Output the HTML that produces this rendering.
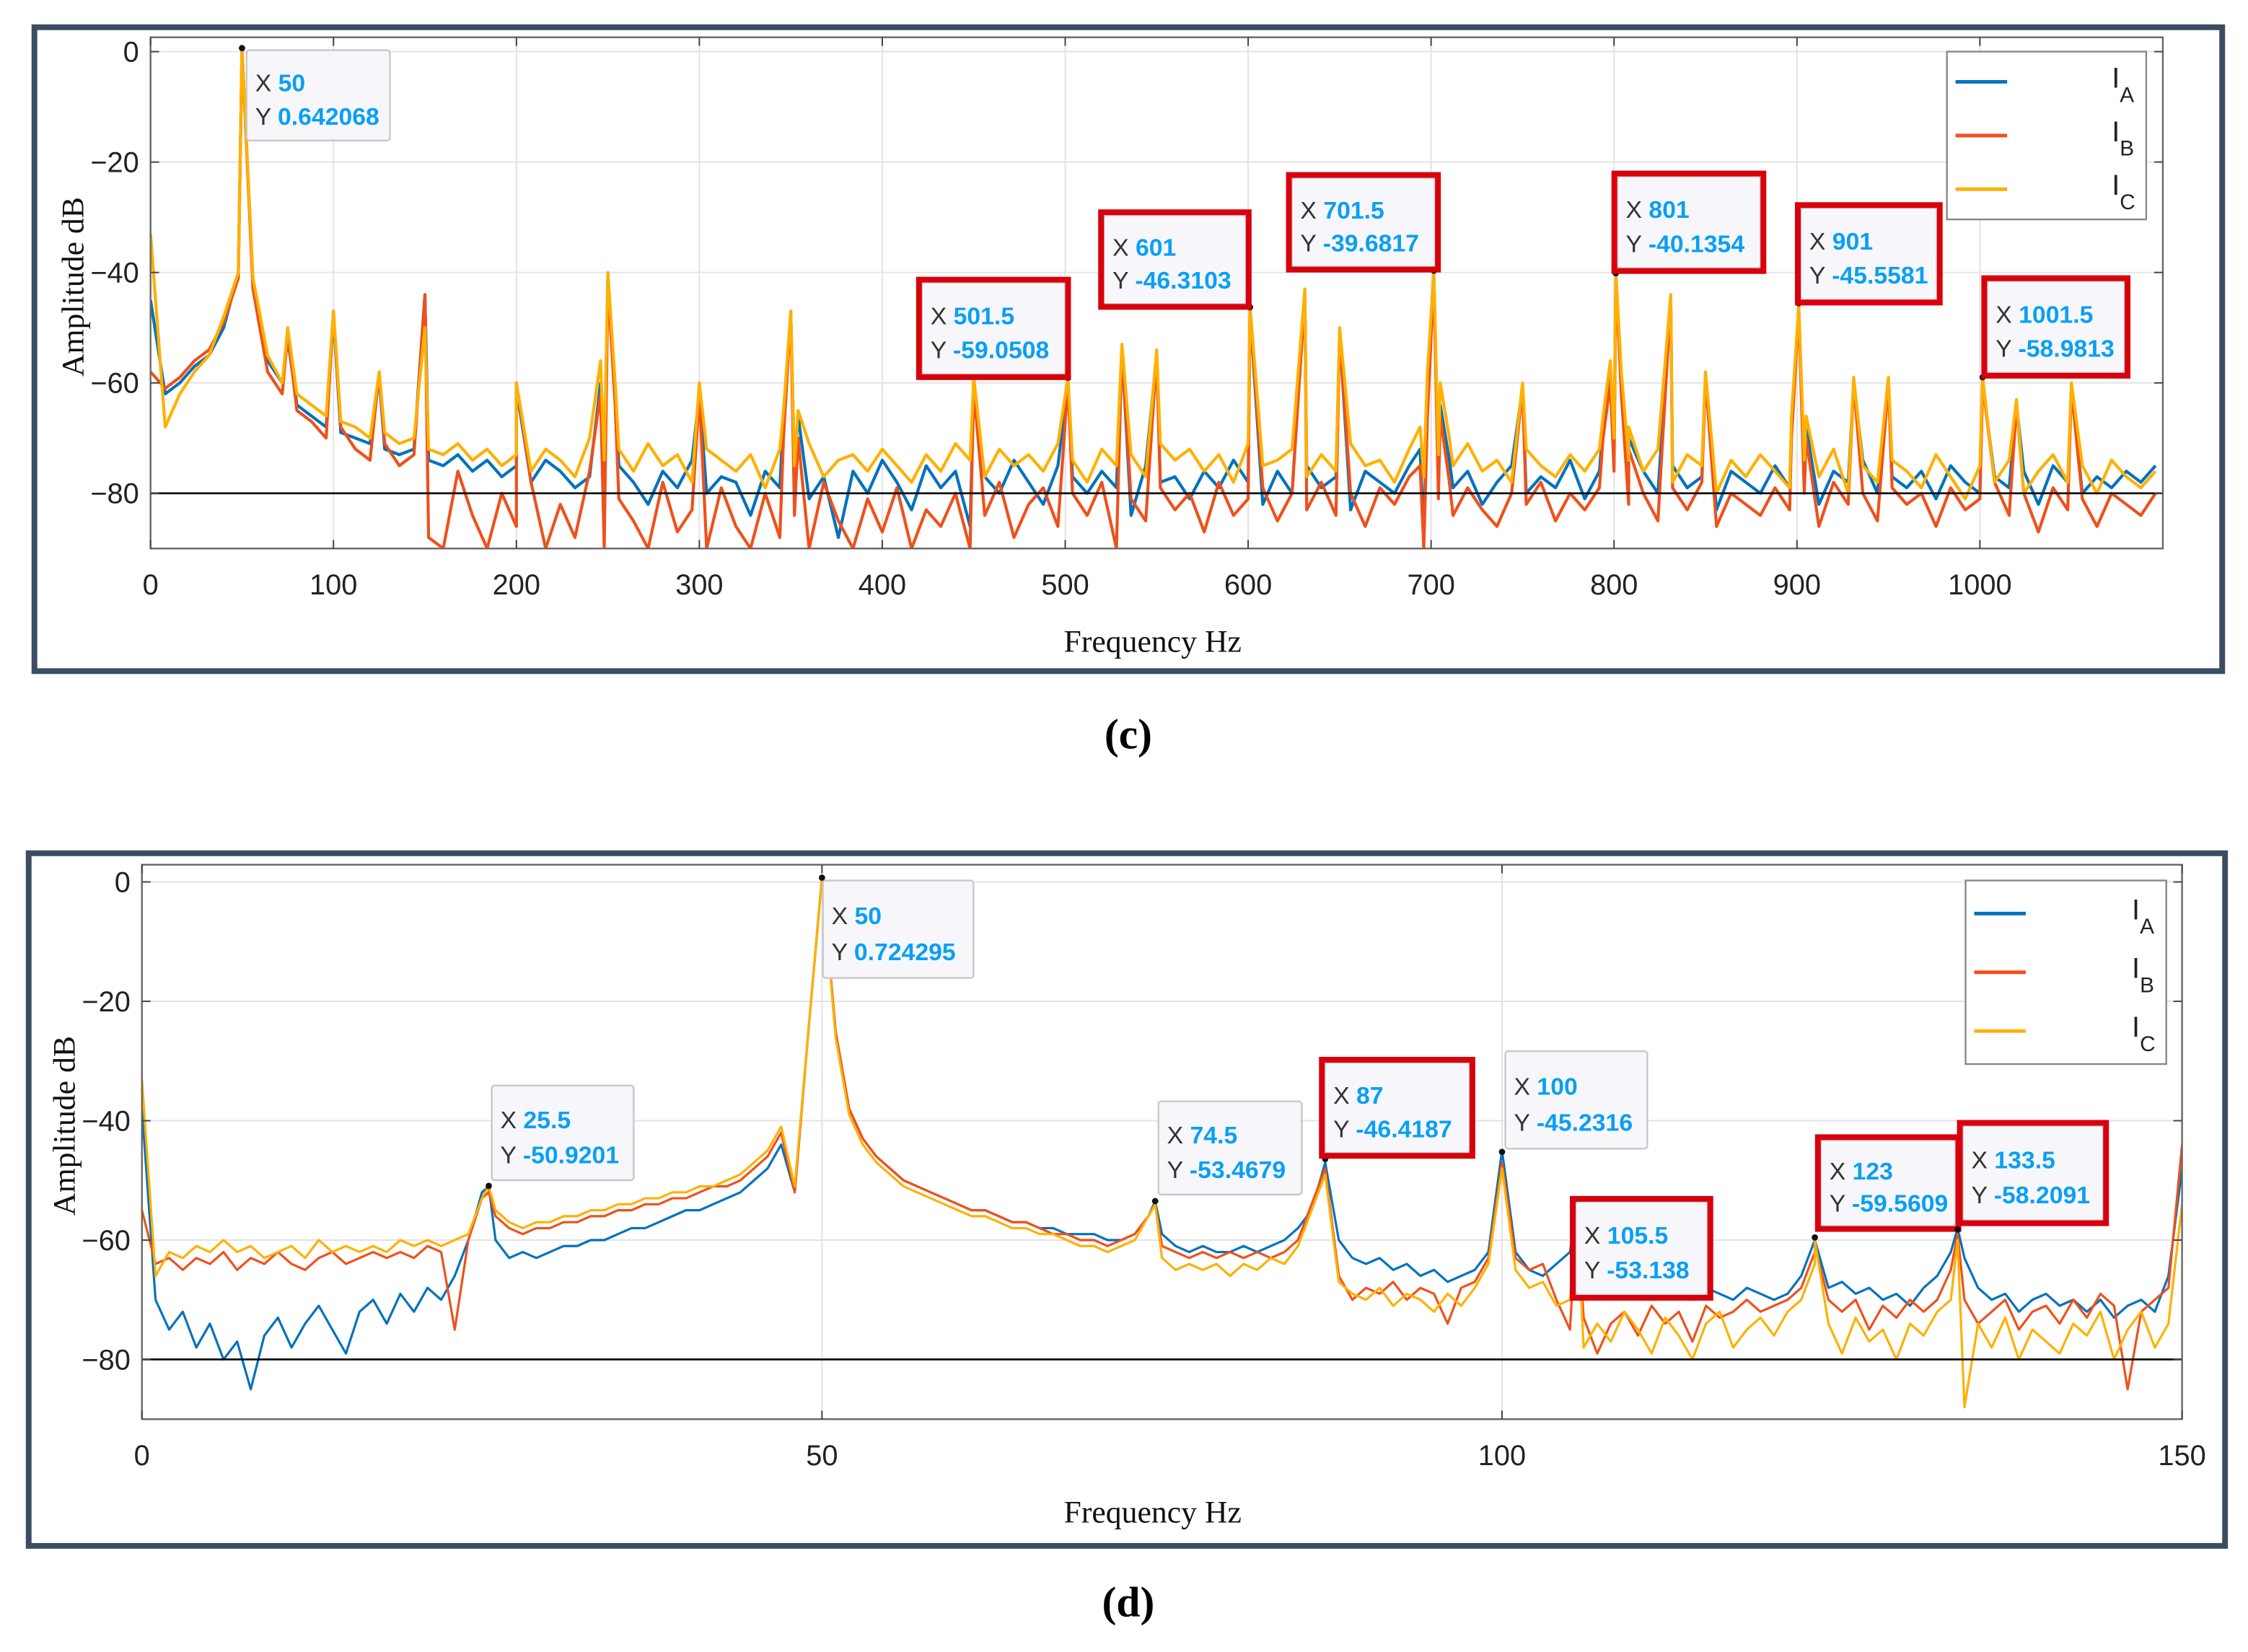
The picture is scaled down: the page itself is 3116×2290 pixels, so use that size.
<!DOCTYPE html>
<html><head><meta charset="utf-8"><style>
html,body{margin:0;padding:0;background:#fff;}
svg{display:block;}
.tk{font-family:"Liberation Sans",sans-serif;font-size:20px;fill:#222;}
.lab{font-family:"Liberation Serif",serif;font-size:22px;fill:#111;}
.dt{font-family:"Liberation Sans Narrow","Liberation Sans",sans-serif;font-size:17px;}
</style></head><body>
<svg id="fig" width="3116" height="2290" viewBox="0 0 1568 1152" preserveAspectRatio="none" xmlns="http://www.w3.org/2000/svg">
<rect x="0" y="0" width="1568" height="1152" fill="#fff"/>
<rect x="24" y="19" width="1526" height="449" fill="none" stroke="#3b4d63" stroke-width="4"/>
<rect x="20" y="595" width="1532" height="483" fill="none" stroke="#3b4d63" stroke-width="4"/>
<text x="787" y="522" text-anchor="middle" font-family="Liberation Serif,serif" font-size="30" font-weight="bold">(c)</text>
<text x="787" y="1127" text-anchor="middle" font-family="Liberation Serif,serif" font-size="30" font-weight="bold">(d)</text>
<g id="pc"></g>
<g id="pd"></g>
</svg>
<script>
// ---------- Panel (c) data ----------
const cNoiseStep = 8; // Hz between noise samples
const cIA = [-45,-62,-60,-57,-55,-50,-40,-42,-56,-60,
-64,-66,-68,-69,-70,-71,-72,-73,-72,-74,
-75,-73,-76,-74,-77,-75,-78,-74,-76,-79,
-77,-80,-75,-78,-82,-76,-79,-74,-80,-77,
-78,-84,-76,-79,-75,-81,-77,-88,-76,-80,
-74,-78,-83,-75,-79,-76,-86,-77,-80,-74,
-78,-82,-75,-77,-80,-76,-79,-84,-75,-78,
-77,-81,-76,-79,-74,-78,-82,-76,-80,-75,
-79,-77,-83,-76,-78,-80,-75,-88,-77,-79,
-76,-82,-78,-75,-80,-77,-79,-74,-81,-76,
-72,-78,-76,-80,-75,-79,-77,-83,-76,-78,
-80,-75,-79,-77,-82,-76,-78,-74,-80,-77,
-79,-76,-81,-75,-78,-80,-77,-79,-76,-82,
-75,-78,-80,-77,-79,-76,-78,-75];
const cIB = [-58,-61,-59,-56,-54,-49,-41,-43,-58,-62,
-65,-67,-70,-68,-72,-74,-71,-75,-73,-88,
-90,-76,-84,-90,-80,-86,-78,-90,-82,-88,
-76,-90,-81,-85,-90,-78,-87,-83,-90,-79,
-86,-90,-80,-88,-84,-90,-78,-85,-90,-81,
-87,-79,-90,-83,-86,-80,-90,-84,-78,-88,
-82,-79,-86,-80,-84,-78,-90,-81,-85,-79,
-83,-80,-87,-78,-84,-81,-79,-85,-80,-83,
-78,-84,-80,-86,-79,-82,-77,-90,-81,-84,
-79,-83,-86,-80,-82,-78,-85,-80,-83,-79,
-76,-82,-80,-85,-79,-83,-78,-86,-80,-82,
-84,-79,-83,-80,-86,-78,-82,-80,-85,-79,
-82,-80,-86,-79,-83,-81,-78,-84,-80,-87,
-79,-83,-81,-86,-80,-82,-84,-80];
const cIC = [-33,-68,-62,-58,-55,-48,-40,-41,-55,-60,
-62,-64,-66,-67,-68,-70,-69,-71,-70,-72,
-73,-71,-74,-72,-75,-73,-76,-72,-74,-77,
-70,-74,-72,-76,-71,-75,-73,-78,-72,-74,
-76,-73,-79,-72,-75,-71,-77,-74,-73,-76,
-72,-75,-78,-73,-76,-71,-74,-77,-72,-75,
-73,-76,-71,-74,-78,-72,-75,-73,-77,-71,
-74,-72,-76,-73,-78,-71,-75,-74,-72,-77,
-73,-76,-71,-75,-74,-78,-72,-77,-73,-75,
-71,-76,-74,-78,-72,-75,-77,-73,-76,-72,
-70,-74,-76,-72,-78,-73,-75,-80,-74,-77,
-73,-76,-79,-74,-77,-72,-80,-75,-78,-74,
-76,-79,-73,-77,-81,-75,-78,-74,-80,-76,
-73,-78,-75,-80,-74,-77,-79,-76];
const cPeakF  = [50,75,100,125,150,200,246,250,254,300,346,350,354,450,501.5,531,550,601,631,650,694,698,701.5,705,710,750,794,798,801,804,808,831,850,897,901,905,931,950,1001.5,1020,1050];
const cPeakIA = [0.6,-52,-48,-59,-44,-61,-60,-41,-62,-62,-66,-48,-66,-61,-60,-54,-55,-47,-44,-51,-72,-62,-41,-64,-74,-61,-68,-58,-41,-60,-70,-45,-59,-68,-47,-68,-60,-60,-60,-64,-61];
const cPeakIB = [0.6,-51,-47,-58,-44,-60,-62,-42,-64,-62,-70,-47,-70,-61,-60,-54,-55,-47,-44,-51,-75,-66,-41,-66,-78,-61,-70,-60,-41,-62,-72,-45,-59,-70,-47,-70,-60,-60,-60,-64,-61];
const cPeakIC = [0.64,-50,-47,-58,-50,-60,-56,-40,-60,-60,-65,-47,-65,-59,-59,-53,-54,-46,-43,-50,-68,-58,-40,-60,-70,-60,-66,-56,-40,-58,-68,-44,-58,-66,-46,-66,-59,-59,-59,-63,-60];
const cXTicks = [0,100,200,300,400,500,600,700,800,900,1000];
const cYTicks = [0,-20,-40,-60,-80];

// ---------- Panel (d) data ----------
const dIA = [-38,-70,-75,-72,-78,-74,-80,-77,-85,-76,-73,-78,-74,-71,-75,-79,-72,-70,-74,-69,-72,-68,-70,-66,-60,-52,-60,-63,-62,-63,-62,-61,-61,-60,-60,-59,-58,-58,-57,-56,-55,-55,-54,-53,-52,-50,-48,-44,-52,-25,0.7,-25,-38,-43,-46,-48,-50,-51,-52,-53,-54,-55,-55,-56,-57,-57,-58,-58,-59,-59,-59,-60,-60,-59,-56,-59,-61,-62,-61,-62,-62,-61,-62,-61,-60,-58,-55,-47,-60,-63,-64,-63,-65,-64,-66,-65,-67,-66,-65,-62,-45,-62,-65,-66,-64,-62,-66,-68,-67,-69,-68,-70,-69,-68,-70,-68,-69,-70,-68,-69,-70,-69,-66,-60,-68,-67,-69,-68,-70,-69,-71,-68,-66,-62,-63,-68,-70,-69,-72,-70,-69,-71,-70,-72,-70,-73,-71,-70,-72,-66,-48];
const dIB = [-55,-64,-63,-65,-63,-64,-62,-65,-63,-64,-62,-64,-65,-63,-62,-64,-63,-62,-63,-62,-63,-61,-62,-75,-60,-53,-56,-58,-59,-58,-58,-57,-57,-56,-56,-55,-55,-54,-54,-53,-53,-52,-51,-51,-50,-48,-46,-42,-52,-25,0.7,-25,-38,-43,-46,-48,-50,-51,-52,-53,-54,-55,-55,-56,-57,-57,-58,-59,-59,-60,-60,-61,-60,-59,-56,-61,-62,-63,-62,-63,-62,-63,-62,-63,-62,-60,-54,-48,-66,-70,-68,-69,-67,-70,-68,-69,-74,-68,-67,-63,-47,-63,-65,-64,-70,-75,-73,-79,-74,-72,-76,-71,-74,-72,-77,-71,-73,-72,-70,-72,-71,-70,-68,-62,-70,-72,-70,-75,-71,-73,-70,-72,-70,-65,-70,-74,-72,-70,-75,-72,-71,-74,-70,-73,-69,-71,-85,-72,-70,-68,-44];
const dIC = [-33,-66,-62,-63,-61,-62,-60,-62,-61,-63,-62,-61,-63,-60,-62,-61,-62,-61,-62,-60,-61,-60,-61,-60,-59,-53,-55,-57,-58,-57,-57,-56,-56,-55,-55,-54,-54,-53,-53,-52,-52,-51,-51,-50,-49,-47,-45,-41,-51,-25,0.7,-26,-39,-44,-47,-49,-51,-52,-53,-54,-55,-56,-56,-57,-58,-58,-59,-59,-60,-61,-61,-62,-61,-60,-56,-63,-65,-64,-65,-64,-66,-64,-65,-63,-64,-61,-55,-49,-67,-69,-70,-68,-71,-69,-70,-72,-69,-71,-68,-64,-48,-65,-68,-67,-71,-70,-78,-74,-77,-72,-75,-79,-73,-76,-80,-74,-72,-78,-75,-73,-76,-72,-70,-64,-74,-79,-73,-77,-75,-80,-74,-76,-72,-70,-88,-74,-78,-73,-80,-75,-77,-79,-74,-76,-72,-80,-75,-72,-78,-74,-54];
const dPeakF  = [25.5,74.5,105.5,123,133.5];
const dPeakIA = [-51,-53.5,-53,-60,-58];
const dPeakIB = [-52,-54,-55,-61,-59];
const dPeakIC = [-51,-54,-55,-60,-60];
const dXTicks = [0,50,100,150];
const dYTicks = [0,-20,-40,-60,-80];

const COLORS = ['#0072bd','#f0501a','#ffb000'];
const NS = 'http://www.w3.org/2000/svg';
function mk(tag, attrs, parent){const e=document.createElementNS(NS,tag);for(const k in attrs)e.setAttribute(k,attrs[k]);parent.appendChild(e);return e;}

function merge(noise, step, pf, pv){
  const pts = noise.map((v,i)=>[i*step,v]);
  pf.forEach((f,i)=>pts.push([f,pv[i]]));
  pts.sort((a,b)=>a[0]-b[0]);
  return pts;
}

function panel(g, cfg){
  const sx = f => cfg.x0 + (f - cfg.fmin)/(cfg.fmax - cfg.fmin)*(cfg.x1 - cfg.x0);
  const sy = v => cfg.y0 + (0 - v)/(80)*(cfg.y80 - cfg.y0);
  const yTop = cfg.yTop, yBot = sy(-90);
  const clipId = cfg.id+'clip';
  const cp = mk('clipPath',{id:clipId},g);
  mk('rect',{x:cfg.x0,y:yTop,width:cfg.x1-cfg.x0,height:yBot-yTop},cp);
  const grid = mk('g',{},g);
  
  
  cfg.xt.forEach(t=>{mk('line',{x1:sx(t),x2:sx(t),y1:yTop,y2:yBot,stroke:'#e3e3e3','stroke-width':1},grid);});
  cfg.yt.forEach(t=>{mk('line',{x1:cfg.x0,x2:cfg.x1,y1:sy(t),y2:sy(t),stroke:'#e3e3e3','stroke-width':1},grid);});
  cfg.series.forEach((pts,si)=>{
    const d = pts.map((p,i)=>(i?'L':'M')+sx(p[0]).toFixed(2)+' '+sy(p[1]).toFixed(2)).join(' ');
    const path = mk('path',{d:d,fill:'none',stroke:COLORS[si],'stroke-width':cfg.sw,'stroke-linejoin':'round','clip-path':'url(#'+clipId+')'},g);
    
    
  });
  mk('line',{x1:cfg.x0,x2:cfg.x1,y1:sy(-80),y2:sy(-80),stroke:'#000','stroke-width':1.3},g);
  const box = mk('rect',{x:cfg.x0,y:yTop,width:cfg.x1-cfg.x0,height:yBot-yTop,fill:'none',stroke:'#666','stroke-width':1.2},g);
  
  
  cfg.xt.forEach(t=>{
    mk('line',{x1:sx(t),x2:sx(t),y1:yBot,y2:yBot-6,stroke:'#444'},g);
    mk('line',{x1:sx(t),x2:sx(t),y1:yTop,y2:yTop+6,stroke:'#444'},g);
    const tx = mk('text',{x:sx(t),y:yBot+32,'text-anchor':'middle',class:'tk'},g);
    tx.textContent = t;
    
    
  });
  cfg.yt.forEach(t=>{
    mk('line',{x1:cfg.x0,x2:cfg.x0+6,y1:sy(t),y2:sy(t),stroke:'#444'},g);
    mk('line',{x1:cfg.x1,x2:cfg.x1-6,y1:sy(t),y2:sy(t),stroke:'#444'},g);
    const tx = mk('text',{x:cfg.x0-8,y:sy(t)+7,'text-anchor':'end',class:'tk'},g);
    tx.textContent = (t<0?'\u2212'+(-t):t);
    
    
  });
  const xl = mk('text',{x:804,y:yBot+72,'text-anchor':'middle',class:'lab'},g);
  xl.textContent='Frequency Hz';
  
  
  const yl = mk('text',{x:0,y:0,'text-anchor':'middle',class:'lab',transform:'translate('+cfg.ylx+','+cfg.yly+') rotate(-90)'},g);
  yl.textContent='Amplitude dB';
  
  
  const L = cfg.leg;
  const lg = mk('g',{},g);
  
  
  mk('rect',{x:L.x,y:L.y,width:L.w,height:L.h,fill:'#fff',stroke:'#888','stroke-width':1.2},lg);
  ['A','B','C'].forEach((s,i)=>{
    const yy = L.y + L.h*(0.18+0.32*i);
    mk('line',{x1:L.x+6,x2:L.x+42,y1:yy,y2:yy,stroke:COLORS[i],'stroke-width':2.5},lg);
    const t = mk('text',{x:L.x+L.w-24,y:yy+4,class:'tk','font-size':'18'},lg);
    t.textContent='I';
    const sub = mk('tspan',{dy:'10','font-size':'15'},t);
    sub.textContent=s;
    
    
  });
  cfg.tips.forEach(tp=>{
    const tg = mk('g',{},g);
    
    
    mk('circle',{cx:sx(tp.f),cy:sy(tp.v),r:2.2,fill:'#111'},tg);
    mk('rect',{x:tp.x,y:tp.y,width:tp.w,height:tp.h,rx:2,fill:'#f7f7fb',stroke:'#c8c8c8','stroke-width':1.2},tg);
    if(tp.red) mk('rect',{x:tp.x-2,y:tp.y-2,width:tp.w+4,height:tp.h+4,fill:'none',stroke:'#d8000c','stroke-width':4},tg);
    [['X',tp.xv],['Y',tp.yv]].forEach((r,k)=>{
      const t = mk('text',{x:tp.x+6,y:tp.y+tp.h*(k?0.73:0.36)+6,class:'dt',fill:'#333'},tg);
      t.textContent = r[0]+' ';
      const v = mk('tspan',{fill:'#0a9ff5','font-weight':'bold'},t);
      v.textContent = r[1];
    });
  });
}

panel(document.getElementById('pc'),{
  id:'panel-c', x0:105, x1:1508.6, fmin:0, fmax:1100, y0:36, y80:344, yTop:26, sw:2.1,
  xt:cXTicks, yt:cYTicks, ylx:58, yly:200,
  series:[merge(cIA,cNoiseStep,cPeakF,cPeakIA), merge(cIB,cNoiseStep,cPeakF,cPeakIB), merge(cIC,cNoiseStep,cPeakF,cPeakIC)],
  leg:{x:1358,y:36,w:139,h:117},
  tips:[
    {f:50,v:0.64,xv:'50',yv:'0.642068',x:172,y:35,w:100,h:63,red:false},
    {f:501.5,v:-59.05,xv:'501.5',yv:'-59.0508',x:643,y:197,w:100,h:64,red:true},
    {f:601,v:-46.31,xv:'601',yv:'-46.3103',x:770,y:150,w:99,h:62,red:true},
    {f:701.5,v:-39.68,xv:'701.5',yv:'-39.6817',x:901,y:124,w:100,h:62,red:true},
    {f:801,v:-40.14,xv:'801',yv:'-40.1354',x:1128,y:123,w:100,h:64,red:true},
    {f:901,v:-45.56,xv:'901',yv:'-45.5581',x:1256,y:145,w:95,h:64,red:true},
    {f:1001.5,v:-58.98,xv:'1001.5',yv:'-58.9813',x:1386,y:196,w:96,h:64,red:true}
  ]
});
panel(document.getElementById('pd'),{
  id:'panel-d', x0:99, x1:1522, fmin:0, fmax:150, y0:615, y80:948, yTop:603, sw:1.6,
  xt:dXTicks, yt:dYTicks, ylx:52, yly:785,
  series:[merge(dIA,1,dPeakF,dPeakIA), merge(dIB,1,dPeakF,dPeakIB), merge(dIC,1,dPeakF,dPeakIC)],
  leg:{x:1371,y:614,w:140,h:128},
  tips:[
    {f:50,v:0.72,xv:'50',yv:'0.724295',x:574,y:614,w:105,h:68,red:false},
    {f:25.5,v:-50.92,xv:'25.5',yv:'-50.9201',x:343,y:757,w:99,h:66,red:false},
    {f:74.5,v:-53.47,xv:'74.5',yv:'-53.4679',x:808,y:768,w:100,h:65,red:false},
    {f:87,v:-46.42,xv:'87',yv:'-46.4187',x:924,y:741,w:101,h:63,red:true},
    {f:100,v:-45.23,xv:'100',yv:'-45.2316',x:1050,y:733,w:99,h:68,red:false},
    {f:105.5,v:-53.14,xv:'105.5',yv:'-53.138',x:1099,y:838,w:92,h:65,red:true},
    {f:123,v:-59.56,xv:'123',yv:'-59.5609',x:1270,y:795,w:94,h:60,red:true},
    {f:133.5,v:-58.21,xv:'133.5',yv:'-58.2091',x:1369,y:785,w:98,h:66,red:true}
  ]
});
</script>
</body></html>
